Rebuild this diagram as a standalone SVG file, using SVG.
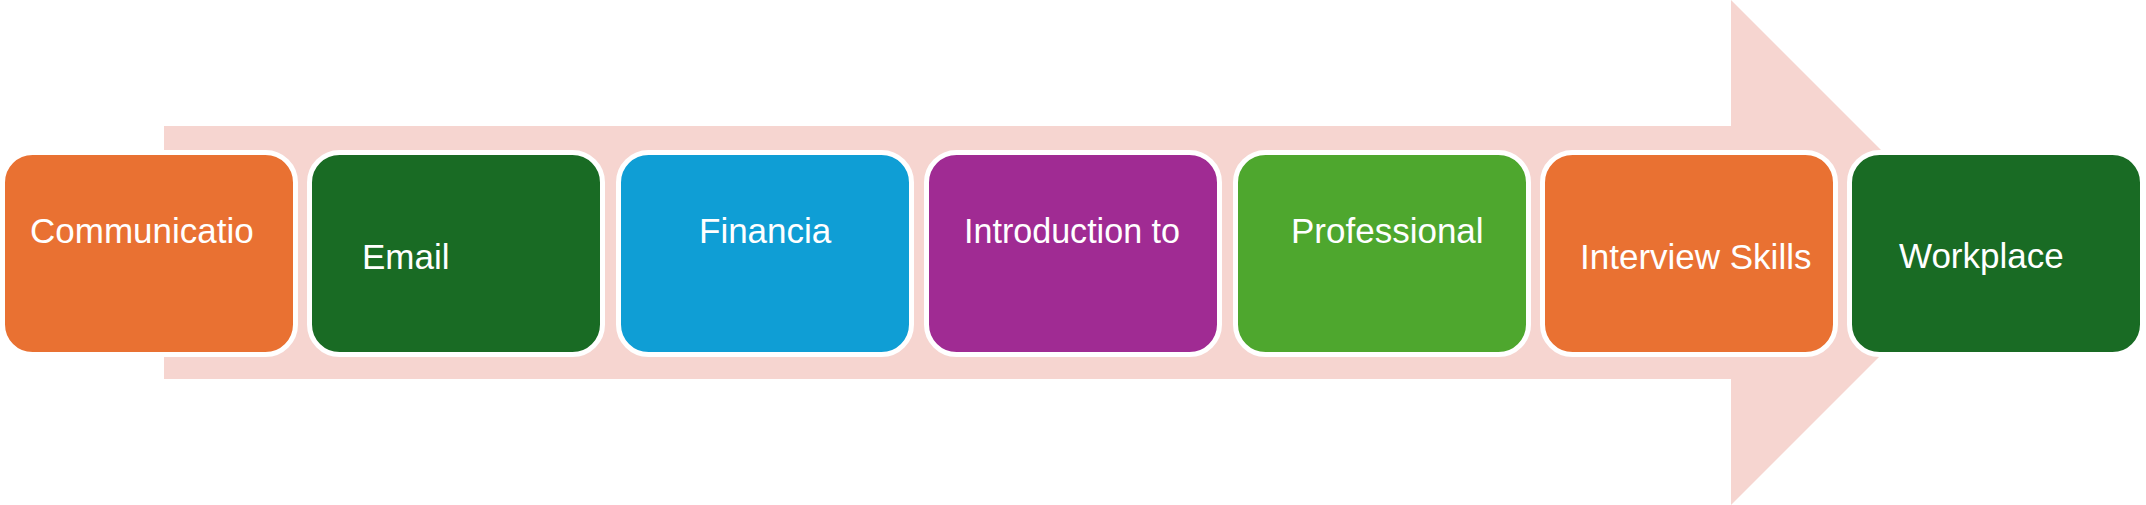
<svg xmlns="http://www.w3.org/2000/svg" width="2146" height="505" viewBox="0 0 2146 505">
<style>
.box{stroke:#FFFFFF;stroke-width:5}
.lbl{font-family:"Liberation Sans",Arial,sans-serif;font-size:35px;fill:#FFFFFF}
</style>
<rect x="0" y="0" width="2146" height="505" fill="#FFFFFF"/>
<g id="arrow">
<polygon points="164,126 1731,126 1731,0 1983.5,252.5 1731,505 1731,379 164,379" fill="#F6D5D0"/>
</g>
<g id="connectors"></g>
<g id="n1"><rect class="box" x="2.5" y="152.5" width="293" height="202" rx="30" fill="#E97132"/><text class="lbl" x="30" y="243">Communicatio</text></g>
<g id="n2"><rect class="box" x="309.5" y="152.5" width="293" height="202" rx="30" fill="#196B24"/><text class="lbl" x="362" y="269">Email</text></g>
<g id="n3"><rect class="box" x="618.5" y="152.5" width="293" height="202" rx="30" fill="#0F9ED5"/><text class="lbl" x="699" y="243">Financia</text></g>
<g id="n4"><rect class="box" x="926.5" y="152.5" width="293" height="202" rx="30" fill="#A02B93"/><text class="lbl" x="964" y="243" textLength="216" lengthAdjust="spacingAndGlyphs">Introduction to</text></g>
<g id="n5"><rect class="box" x="1235.5" y="152.5" width="293" height="202" rx="30" fill="#4EA72E"/><text class="lbl" x="1291" y="243">Professional</text></g>
<g id="n6"><rect class="box" x="1542.5" y="152.5" width="293" height="202" rx="30" fill="#E97132"/><text class="lbl" x="1580" y="269">Interview Skills</text></g>
<g id="n7"><rect class="box" x="1849.5" y="152.5" width="293" height="202" rx="30" fill="#196B24"/><text class="lbl" x="1899" y="268">Workplace</text></g>
</svg>
